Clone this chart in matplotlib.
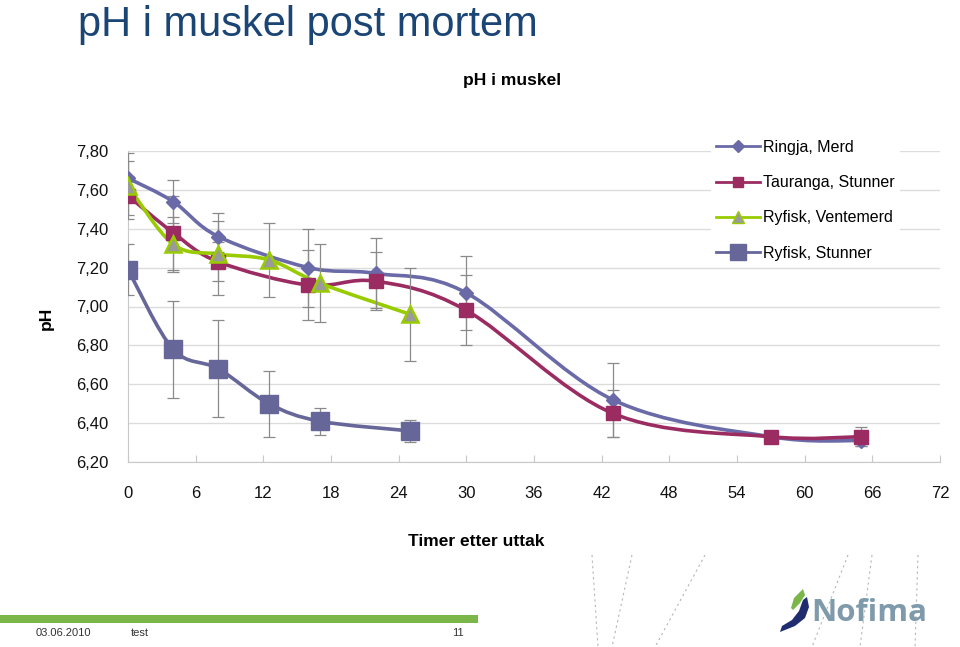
import numpy as np
import matplotlib
matplotlib.use("Agg")
import matplotlib.pyplot as plt
from matplotlib.path import Path
from matplotlib.patches import PathPatch, Polygon
from matplotlib.lines import Line2D
from matplotlib.ticker import FuncFormatter

plt.rcParams['font.family'] = ['Liberation Sans', 'DejaVu Sans']

# --- data (timer etter uttak, pH, +/- feil) ---
t_langtid = [0, 4, 8, 16, 22, 30, 43, 57, 65]
ph_ringja = [7.66, 7.54, 7.36, 7.20, 7.17, 7.07, 6.52, 6.33, 6.31]
err_ringja = [0.09, 0.11, 0.08, 0.20, 0.18, 0.19, 0.19, 0.03, 0.03]
ph_tauranga = [7.57, 7.38, 7.23, 7.11, 7.13, 6.98, 6.45, 6.33, 6.33]
err_tauranga = [0.10, 0.19, 0.10, 0.18, 0.15, 0.18, 0.12, 0.03, 0.05]

t_ryfisk = [0, 4, 8, 12.5, 17, 25]
ph_ventemerd = [7.62, 7.32, 7.27, 7.24, 7.12, 6.96]
err_ventemerd = [0.17, 0.14, 0.21, 0.19, 0.20, 0.24]
ph_stunner = [7.19, 6.78, 6.68, 6.50, 6.41, 6.36]
err_stunner = [0.13, 0.25, 0.25, 0.17, 0.07, 0.055]

series_names = ['Ringja, Merd', 'Tauranga, Stunner', 'Ryfisk, Ventemerd', 'Ryfisk, Stunner']
x_ticks = list(range(0, 73, 6))
y_ticks = [6.2, 6.4, 6.6, 6.8, 7.0, 7.2, 7.4, 7.6, 7.8]

W, H = 960, 647
fig = plt.figure(figsize=(W / 100, H / 100), dpi=100)
fig.patch.set_facecolor('white')


def fx(x):
    return x / W


def fy(y):
    return 1 - y / H


ax = fig.add_axes([fx(128), fy(462), fx(940) - fx(128), fy(151) - fy(462)])


def smooth(ax, x, y, color, lw):
    # Excel-like smoothed line: cubic bezier through the points
    x = np.asarray(x, float)
    y = np.asarray(y, float)
    n = len(x)
    verts = [(x[0], y[0])]
    codes = [Path.MOVETO]
    for i in range(n - 1):
        p0 = max(i - 1, 0)
        p3 = min(i + 2, n - 1)
        c1 = (x[i] + (x[i + 1] - x[p0]) / 6, y[i] + (y[i + 1] - y[p0]) / 6)
        c2 = (x[i + 1] - (x[p3] - x[i]) / 6, y[i + 1] - (y[p3] - y[i]) / 6)
        verts += [c1, c2, (x[i + 1], y[i + 1])]
        codes += [Path.CURVE4] * 3
    ax.add_patch(PathPatch(Path(verts, codes), facecolor='none', edgecolor=color,
                           lw=lw, capstyle='round', joinstyle='round', zorder=2))


c_ringja = '#6a6aa8'
c_tauranga = '#9b2c62'
c_green = '#99cc00'
c_stunner = '#666699'
c_err = '#8a8a8a'

err_kw = dict(fmt='none', ecolor=c_err, elinewidth=0.9, capsize=4, capthick=0.9, zorder=3)

smooth(ax, t_langtid, ph_ringja, c_ringja, 2.6)
smooth(ax, t_langtid, ph_tauranga, c_tauranga, 2.6)
smooth(ax, t_ryfisk, ph_ventemerd, c_green, 2.6)
smooth(ax, t_ryfisk, ph_stunner, c_stunner, 2.6)

ax.errorbar(t_langtid, ph_ringja, yerr=err_ringja, **err_kw)
ax.errorbar(t_langtid, ph_tauranga, yerr=err_tauranga, **err_kw)
ax.errorbar(t_ryfisk, ph_ventemerd, yerr=err_ventemerd, **err_kw)
ax.errorbar(t_ryfisk, ph_stunner, yerr=err_stunner, **err_kw)

ax.plot(t_langtid, ph_ringja, ls='none', marker='D', ms=7.5, color=c_ringja, zorder=4)
ax.plot(t_langtid, ph_tauranga, ls='none', marker='s', ms=10, color=c_tauranga, zorder=4)
ax.plot(t_ryfisk, ph_ventemerd, ls='none', marker='^', ms=11, markerfacecolor='#9a9a9a',
        markeredgecolor=c_green, markeredgewidth=1.8, zorder=4)
ax.plot(t_ryfisk, ph_stunner, ls='none', marker='s', ms=13, color=c_stunner, zorder=4)

ax.set_xlim(0, 72)
ax.set_ylim(6.2, 7.8)
ax.set_xticks(x_ticks)
ax.set_yticks(y_ticks)
ax.yaxis.set_major_formatter(FuncFormatter(lambda v, p: f"{v:.2f}".replace('.', ',')))
ax.grid(axis='y', color='#dcdcdc', lw=1)
ax.set_axisbelow(True)
for s in ['top', 'right']:
    ax.spines[s].set_visible(False)
ax.spines['left'].set_color('#c8c8c8')
ax.spines['bottom'].set_color('#c8c8c8')
ax.tick_params(axis='x', direction='in', length=5, color='#c8c8c8', pad=17,
               labelsize=12, labelcolor='#111111')
ax.tick_params(axis='y', length=0, pad=14, labelsize=12, labelcolor='#111111')

handles = [
    Line2D([], [], color=c_ringja, lw=2, marker='D', ms=6),
    Line2D([], [], color=c_tauranga, lw=2, marker='s', ms=7.5),
    Line2D([], [], color=c_green, lw=2, marker='^', ms=8.5, markerfacecolor='#9a9a9a',
           markeredgecolor=c_green),
    Line2D([], [], color=c_stunner, lw=2, marker='s', ms=12),
]
leg = ax.legend(handles, series_names, loc='upper left', bbox_to_anchor=(0.7087, 1.077),
                frameon=True, framealpha=1, edgecolor='none', facecolor='white',
                fontsize=11.5, handlelength=2.75, handletextpad=0.2, labelspacing=1.27,
                borderpad=0.3)

# texts
fig.text(fx(78), fy(36), 'pH i muskel post mortem', fontsize=30, color='#1b4574',
         va='baseline', ha='left')
fig.text(fx(512), fy(80), 'pH i muskel', fontsize=12.5, fontweight='bold', ha='center',
         va='center')
fig.text(fx(46), fy(318), 'pH', fontsize=12.5, fontweight='bold', rotation=90,
         ha='center', va='center')
fig.text(fx(476), fy(541), 'Timer etter uttak', fontsize=12.5, fontweight='bold',
         ha='center', va='center')

# footer
fig.add_artist(Polygon([(fx(0), fy(615)), (fx(478), fy(615)), (fx(478), fy(623)), (fx(0), fy(623))],
                       closed=True, transform=fig.transFigure, facecolor='#7ab648',
                       edgecolor='none'))
fig.text(fx(36), fy(633), '03.06.2010', fontsize=8, ha='left', va='center', color='#333333')
fig.text(fx(131), fy(633), 'test', fontsize=8, ha='left', va='center', color='#333333')
fig.text(fx(464), fy(633), '11', fontsize=8, ha='right', va='center', color='#333333')

# decorative dashed curves
for (x0, x1) in [(592, 598), (632, 612), (705, 655), (848, 812), (872, 860), (918, 915)]:
    xs = np.linspace(x0, x1, 20)
    ys = np.linspace(555, 647, 20)
    fig.add_artist(Line2D([fx(v) for v in xs], [fy(v) for v in ys], transform=fig.transFigure,
                          color='#b5b5b5', lw=0.8, ls=(0, (2, 3))))

# logo
crescent = [(807, 597), (809, 607), (805, 618), (795, 626), (780, 632),
            (782, 626), (792, 620), (799, 611), (803, 600)]
leaf = [(791, 608), (794, 598), (803, 589), (805, 595), (800, 603), (793, 610)]
fig.add_artist(Polygon([(fx(a), fy(b)) for a, b in crescent], closed=True,
                       transform=fig.transFigure, facecolor='#1f2d6e', edgecolor='none'))
fig.add_artist(Polygon([(fx(a), fy(b)) for a, b in leaf], closed=True,
                       transform=fig.transFigure, facecolor='#7ab648', edgecolor='none'))
fig.text(fx(811), fy(613), 'Nofima', fontsize=22.5, fontweight='bold', color='#7f9aab',
         ha='left', va='center', family=['Open Sans', 'DejaVu Sans'])

fig.savefig('out.png', dpi=100)
